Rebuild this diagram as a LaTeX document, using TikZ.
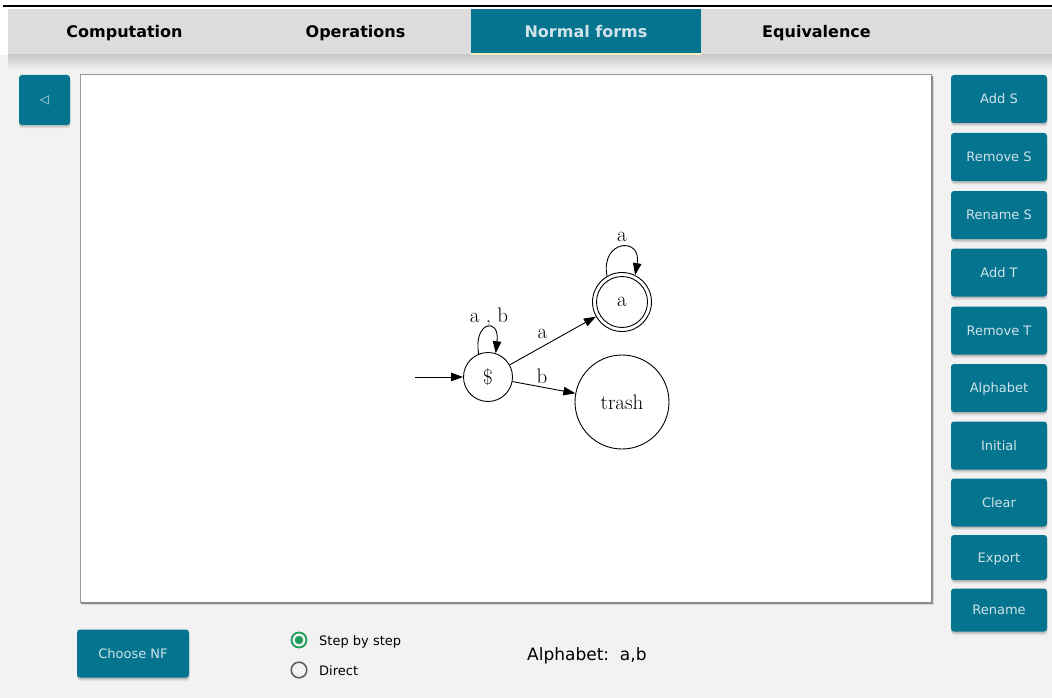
\documentclass[tikz,border=0pt]{standalone}
\usepackage{fontspec}
\newfontfamily\uifont{DejaVu Sans}
\usetikzlibrary{arrows.meta}

\definecolor{teal}{HTML}{05758F}
\definecolor{paneBg}{HTML}{F2F2F2}
\definecolor{barBg}{HTML}{DCDCDC}
\definecolor{btnText}{HTML}{CFE2E9}
\definecolor{radioGreen}{HTML}{1E9E5A}
\definecolor{tabLine}{HTML}{F4F0C4}

\tikzset{
  softshadow/.style={
    preaction={fill=black, opacity=0.06, transform canvas={yshift=-3.5pt, xshift=0.5pt}},
    preaction={fill=black, opacity=0.08, transform canvas={yshift=-2.5pt}},
    preaction={fill=black, opacity=0.10, transform canvas={yshift=-1.5pt}}},
  btn/.style={fill=teal, rounded corners=3pt, text=btnText,
    font=\uifont\fontsize{13}{15}\selectfont, inner sep=0pt,
    text height=9.5pt, text depth=0pt,
    minimum width=96pt, minimum height=48pt, softshadow},
  tablbl/.style={font=\uifont\bfseries\fontsize{16}{18}\selectfont, inner sep=0pt,
    text height=11.7pt, text depth=0pt},
  uitext/.style={font=\uifont\fontsize{13}{15}\selectfont, inner sep=0pt, anchor=base west},
  st/.style={circle, draw, line width=0.9pt, inner sep=0pt,
    font=\fontsize{21}{23}\selectfont},
  lbl/.style={inner sep=0pt, font=\fontsize{21}{23}\selectfont},
  edge/.style={line width=0.9pt, -{Triangle[length=12pt,width=8.5pt]}},
}

\begin{document}
\begin{tikzpicture}[x=1pt,y=-1pt]
\useasboundingbox (0,0) rectangle (1052,698);

% window background and title rule
\fill[paneBg] (0,0) rectangle (1052,698);
\fill[white] (0,0) rectangle (1052,9);
\fill[white] (0,9) rectangle (8,55);
\draw[black, line width=1.5pt] (3,6) -- (1052,6);

% tab bar with its shadow
\shade[top color=black!22, bottom color=paneBg] (8,54) rectangle (1052,70);
\fill[barBg] (8,9) rectangle (1052,54);
\fill[teal] (471,9) rectangle (701,53);
\fill[tabLine] (471,53) rectangle (701,55.5);
\node[tablbl] (tcomp) at (124.5,32) {Computation};
\node[tablbl] (tops) at (355.5,32) {Operations};
\node[tablbl, text=btnText] (tnf) at (586,32) {Normal forms};
\node[tablbl] (teq) at (816.5,32) {Equivalence};

% drawing area with a shadow on its lower right
\fill[black, opacity=0.10] (82,77) rectangle (934,605);
\fill[black, opacity=0.12] (81,76) rectangle (933,604);
\fill[white, draw=black!40, line width=1pt] (80,75) rectangle (931,602);
\draw[black!45, line width=1.2pt] (932,76) -- (932,603) -- (81,603);

% side and bottom buttons
\node[btn, minimum width=51pt, minimum height=50pt, text height=8pt] (back) at (44.5,100)
  {\fontsize{12}{14}\selectfont ◁};
\node[btn] (adds) at (999,99) {Add S};
\node[btn] (rems) at (999,157) {Remove S};
\node[btn] (rens) at (999,215) {Rename S};
\node[btn] (addt) at (999,272.5) {Add T};
\node[btn] (remt) at (999,330.5) {Remove T};
\node[btn] (alph) at (999,388) {Alphabet};
\node[btn] (init) at (999,445.5) {Initial};
\node[btn] (clr) at (999,502.5) {Clear};
\node[btn, minimum height=45pt] (exp) at (999,557.5) {Export};
\node[btn, minimum height=43pt] (ren) at (999,610) {Rename};
\node[btn, minimum width=112pt] (cnf) at (133,653.5) {Choose NF};

% mode selection
\draw[radioGreen, line width=1.8pt] (299,640) circle[radius=7.5];
\fill[radioGreen] (299,640) circle[radius=4.2];
\draw[black!65, line width=1.5pt] (299,670) circle[radius=7.8];
\node[uitext] (sbs) at (319,645) {Step by step};
\node[uitext] (dir) at (319,675) {Direct};
\node[uitext, font=\uifont\fontsize{17}{19}\selectfont] (alpha) at (527,660.5)
  {Alphabet:\ \ a,b};

% automaton
\node[st, minimum size=49pt] (s) at (488,377) {\$};
\node[st, minimum size=59pt] (a) at (622,302) {a};
\draw[line width=0.9pt] (a.center) circle[radius=25.5];
\node[st, minimum size=94pt] (t) at (622,402) {trash};
\coordinate (start) at (415,377);

\draw[edge] (start) -- (s);
\draw[edge] (s.112) .. controls (473,322) and (500,316) .. (s.72);
\node[lbl] (lss) at (489,317) {a , b};
\draw[edge] (a.120) .. controls (600,240) and (642,236) .. (a.64);
\node[lbl] (laa) at (622,237) {a};
\draw[edge] (s) -- (a) node[lbl, pos=0.38, yshift=13pt] (lsa) {a};
\draw[edge] (s) -- (t) node[lbl, pos=0.47, yshift=11pt] (lst) {b};
\end{tikzpicture}
\end{document}
